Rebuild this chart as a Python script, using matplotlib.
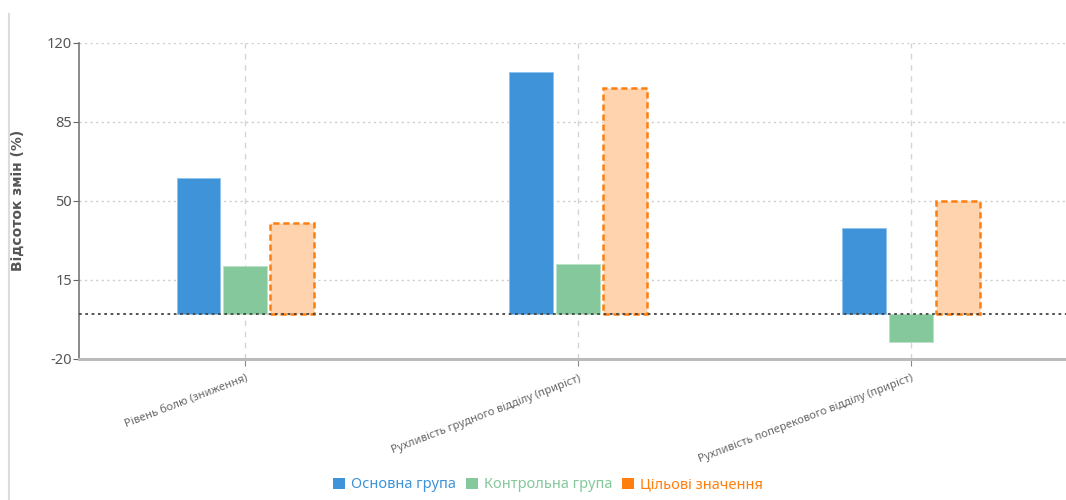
import numpy as np
from matplotlib import pyplot as plt
from matplotlib.patches import Patch
from matplotlib.lines import Line2D

plt.rcParams['font.family'] = ['Noto Sans', 'DejaVu Sans']
plt.rcParams['axes.unicode_minus'] = False

# дані
categories = ['Рівень болю (зниження)',
              'Рухливість грудного відділу (приріст)',
              'Рухливість поперекового відділу (приріст)']
main_group = [60, 107, 38]
control_group = [21, 22, -12.5]
target_values = [40, 100, 50]
series_names = ['Основна група', 'Контрольна група', 'Цільові значення']
y_ticks = [-20, 15, 50, 85, 120]

c_blue = '#3f93d8'
c_green = '#84c89b'
c_orange = '#ff7f0e'
c_peach = '#fed3ae'

fig = plt.figure(figsize=(10.66, 5), dpi=100)
ax = fig.add_axes([79 / 1066, 1 - 359 / 500, 1 - 79 / 1066, (359 - 42.7) / 500])

x = np.arange(len(categories))
w = 0.132
step = 0.141

ax.bar(x - step, main_group, w, color=c_blue, edgecolor='#8fc2ec', linewidth=0.6, zorder=3)
ax.bar(x, control_group, w, color=c_green, edgecolor='#b9e2c6', linewidth=0.6, zorder=3)
ax.bar(x + step, target_values, w, color=c_peach, edgecolor=c_orange, linewidth=1.8,
       linestyle=(0, (2.5, 1.5)), zorder=3)

# нульова лінія
ax.axhline(0, color='#444444', linewidth=1.3, linestyle=(0, (1.5, 2)), zorder=4)

ax.set_xlim(-0.5, 2.465)
ax.set_ylim(-20, 120)
ax.set_yticks(y_ticks)
ax.set_xticks(x)
ax.set_xticklabels(categories, rotation=21, ha='right', rotation_mode='anchor',
                   fontsize=8, color='#666666')
ax.tick_params(axis='x', length=5, color='#888888', pad=5)
ax.tick_params(axis='y', length=4, color='#666666', labelsize=10.5, labelcolor='#555555', pad=1)

ax.grid(axis='y', color='#cccccc', linestyle=(0, (1.5, 2.5)), linewidth=1, zorder=0)
ax.grid(axis='x', color='#d5d5d5', linestyle=(0, (4, 4)), linewidth=1, zorder=0)

for s in ['top', 'right']:
    ax.spines[s].set_visible(False)
ax.spines['left'].set_color('#777777')
ax.spines['left'].set_linewidth(1.2)
ax.spines['bottom'].set_color('#bbbbbb')
ax.spines['bottom'].set_linewidth(2.2)

fig.text(18 / 1066, 1 - 200 / 500, 'Відсоток змін (%)', rotation=90, ha='center', va='center',
         fontsize=10, fontweight='bold', color='#555555', family=['DejaVu Sans'])

# рамка зліва
fig.add_artist(Line2D([8.5 / 1066, 8.5 / 1066], [0, 1 - 14 / 500], color='#dcdcdc', linewidth=1.5))

handles = [Patch(facecolor=c_blue), Patch(facecolor=c_green), Patch(facecolor=c_orange)]
leg = fig.legend(handles, series_names, loc='center', bbox_to_anchor=(548 / 1066, 1 - 485 / 500),
                 ncol=3, frameon=False, fontsize=10.5, handlelength=0.8, handleheight=0.8,
                 handletextpad=0.4, columnspacing=0.7)
for t, c in zip(leg.get_texts(), [c_blue, c_green, c_orange]):
    t.set_color(c)

fig.savefig('out.png', dpi=100)
